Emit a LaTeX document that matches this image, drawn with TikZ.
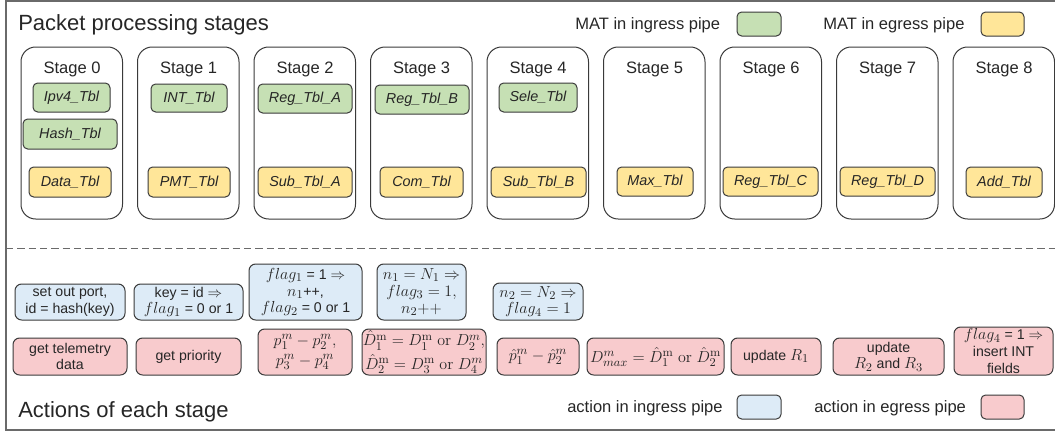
\documentclass[tikz,border=0pt]{standalone}
\usepackage[no-math]{fontspec}
\setmainfont{Liberation Sans}

\definecolor{mingr}{HTML}{C6E0B4}
\definecolor{megr}{HTML}{FFE699}
\definecolor{aingr}{HTML}{DDEBF7}
\definecolor{aegr}{HTML}{F8CBCD}
\definecolor{edge}{HTML}{3A3A3A}
\definecolor{ink}{HTML}{262626}
\definecolor{framecol}{HTML}{6A6A6A}

\tikzset{
  stagebox/.style={draw=edge, line width=0.75pt, rounded corners=11pt, inner sep=0pt},
  tbl/.style={draw=edge, line width=0.75pt, rounded corners=3.5pt, inner sep=0pt,
    font=\fontsize{10.8}{13}\selectfont\itshape, text=ink},
  ingtbl/.style={tbl, fill=mingr},
  egrtbl/.style={tbl, fill=megr},
  act/.style={draw=edge, line width=0.75pt, rounded corners=5pt, inner sep=0pt,
    align=center, font=\fontsize{10.6}{12.6}\selectfont, text=ink},
  ingact/.style={act, fill=aingr},
  egract/.style={act, fill=aegr},
  stagelbl/.style={font=\fontsize{12.4}{14}\selectfont, text=ink, anchor=base, inner sep=0pt},
  heading/.style={font=\fontsize{16.5}{19}\selectfont, text=ink, anchor=base west, inner sep=0pt},
  legendlbl/.style={font=\fontsize{12.4}{14}\selectfont, text=ink, anchor=base west, inner sep=0pt},
  swatch/.style={draw=edge, line width=0.75pt, rounded corners=3.5pt, inner sep=0pt},
}

% formulas inside the action boxes are set a little larger than the text
\newcommand\mth[1]{{\fontsize{12.2}{12.6}\selectfont$#1$}}

% box from its corners (in px units): style, name, x1, y1, x2, y2, text
\newcommand\mkbox[7]{%
  \pgfmathsetmacro\bw{(#5-#3)*0.75}%
  \pgfmathsetmacro\bh{(#6-#4)*0.75}%
  \node[#1, minimum width=\bw pt, minimum height=\bh pt] (#2) at ({(#3+#5)/2},{(#4+#6)/2}) {#7};}

\begin{document}
\begin{tikzpicture}[x=0.75pt, y=-0.75pt]
\useasboundingbox (0,0) rectangle (1055,432);
\clip (0,0) rectangle (1055,432);

% outer frame and separator
\draw[framecol, line width=0.9pt] (1070,1) -- (6,1) -- (6,430) -- (1070,430);
\coordinate (sepL) at (6,248);
\coordinate (sepR) at (1060,248);
\draw[framecol, line width=0.75pt, dash pattern=on 5.5pt off 3pt] (sepL) -- (sepR);

% headings
\node[heading] (hstages) at (18,31) {Packet processing stages};
\node[heading] (hactions) at (18,417) {Actions of each stage};

% legends
\node[legendlbl] (lgmi) at (575,29) {MAT in ingress pipe};
\mkbox{swatch, fill=mingr}{swmi}{737}{12}{781}{36}{}
\node[legendlbl] (lgme) at (823,29) {MAT in egress pipe};
\mkbox{swatch, fill=megr}{swme}{981}{12}{1024}{36}{}
\node[legendlbl] (lgai) at (567,412) {action in ingress pipe};
\mkbox{swatch, fill=aingr}{swai}{737}{395}{781}{419}{}
\node[legendlbl] (lgae) at (814,412) {action in egress pipe};
\mkbox{swatch, fill=aegr}{swae}{981}{395}{1024}{419}{}

% stages
\foreach \k in {0,...,8}{
  \pgfmathsetmacro\lx{21+116.5*\k}
  \pgfmathsetmacro\rx{\lx+101.5}
  \mkbox{stagebox}{stage\k}{\lx}{47}{\rx}{219}{}
  \node[stagelbl] (slbl\k) at ({\lx+51},73) {Stage \k};
}

% match-action tables
\mkbox{ingtbl}{ipv4}{33}{83}{110}{112}{Ipv4\_Tbl}
\mkbox{ingtbl}{hash}{23}{119}{117}{149}{Hash\_Tbl}
\mkbox{egrtbl}{data}{29}{167}{111}{197}{Data\_Tbl}
\mkbox{ingtbl}{int}{151}{84}{227}{112}{INT\_Tbl}
\mkbox{egrtbl}{pmt}{148}{167}{230}{197}{PMT\_Tbl}
\mkbox{ingtbl}{rega}{258}{84}{352}{113}{Reg\_Tbl\_A}
\mkbox{egrtbl}{suba}{258}{167}{352}{197}{Sub\_Tbl\_A}
\mkbox{ingtbl}{regb}{375}{85}{469}{114}{Reg\_Tbl\_B}
\mkbox{egrtbl}{com}{380}{167}{463}{197}{Com\_Tbl}
\mkbox{ingtbl}{sele}{499}{83}{577}{112}{Sele\_Tbl}
\mkbox{egrtbl}{subb}{491}{167}{586}{197}{Sub\_Tbl\_B}
\mkbox{egrtbl}{max}{617}{167}{693}{196}{Max\_Tbl}
\mkbox{egrtbl}{regc}{723}{167}{818}{196}{Reg\_Tbl\_C}
\mkbox{egrtbl}{regd}{840}{167}{935}{196}{Reg\_Tbl\_D}
\mkbox{egrtbl}{add}{966}{167}{1042}{197}{Add\_Tbl}

% ingress actions
\mkbox{ingact}{ai0}{15}{284}{125}{320}{set out port,\\ id = hash(key)}
\mkbox{ingact}{ai1}{134}{284}{243}{320}{key = id $\Rightarrow$\\ \mth{flag_1} = 0 or 1}
\mkbox{ingact}{ai2}{249}{264}{362}{320}{\mth{flag_1} = 1 $\Rightarrow$\\ \mth{n_1}++,\\ \mth{flag_2} = 0 or 1}
\mkbox{ingact}{ai3}{377}{264}{466}{320}{\mth{n_1 = N_1 \Rightarrow}\\ \mth{flag_3 = 1,}\\ \mth{n_2{+}{+}}}
\mkbox{ingact}{ai4}{493}{283}{583}{320}{\mth{n_2 = N_2 \Rightarrow}\\ \mth{flag_4 = 1}}

% egress actions
\mkbox{egract}{ae0}{13}{338}{127}{375}{get telemetry\\ data}
\mkbox{egract}{ae1}{136}{338}{241}{375}{get priority}
\mkbox{egract}{ae2}{258}{329}{352}{375}{\mth{p_1^m - p_2^m,}\\[2pt] \mth{p_3^m - p_4^m}}
\mkbox{egract}{ae3}{362}{329}{486}{375}{\mth{\hat{D}_1^{\mathrm{m}} = D_1^{\mathrm{m}}\ \mathrm{or}\ D_2^m,}\\[2pt] \mth{\hat{D}_2^{\mathrm{m}} = D_3^{\mathrm{m}}\ \mathrm{or}\ D_4^m}}
\mkbox{egract}{ae4}{497}{338}{579}{375}{\mth{\hat{p}_1^m - \hat{p}_2^m}}
\mkbox{egract}{ae5}{587}{338}{724}{375}{\mth{D_{max}^m = \hat{D}_1^{\mathrm{m}}\ \mathrm{or}\ \hat{D}_2^{\mathrm{m}}}}
\mkbox{egract}{ae6}{731}{338}{821}{375}{update \mth{R_1}}
\mkbox{egract}{ae7}{833}{338}{944}{375}{update\\ \mth{R_2} and \mth{R_3}}
\mkbox{egract}{ae8}{954}{327}{1053}{375}{\mth{flag_4} = 1 $\Rightarrow$\\ insert INT\\ fields}
\end{tikzpicture}
\end{document}
